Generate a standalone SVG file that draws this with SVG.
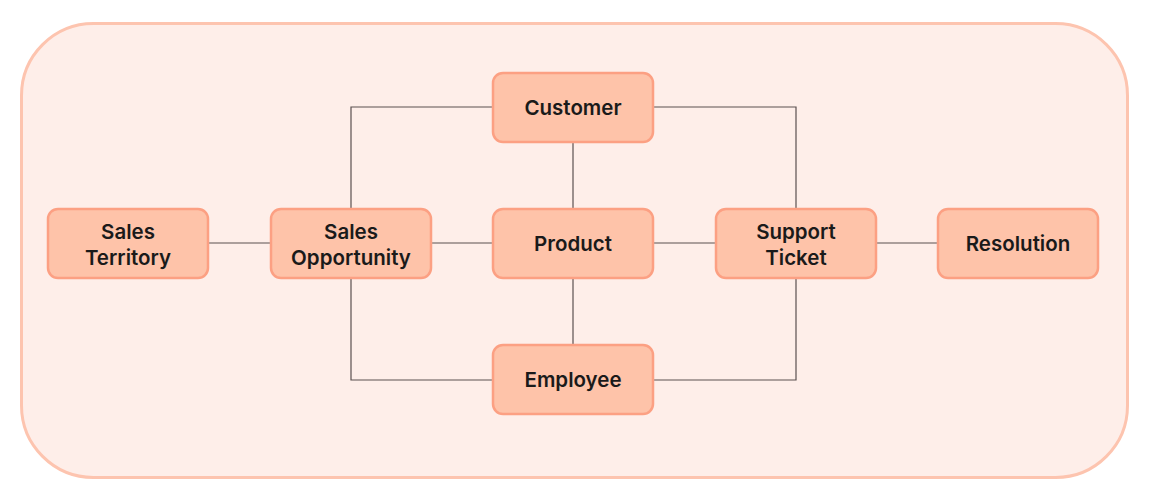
<svg xmlns="http://www.w3.org/2000/svg" width="1159" height="503" viewBox="0 0 1159 503">
<style>
.node rect{fill:#FEC3A9;stroke:#FCA083;stroke-width:2.5}
.node text{font-family:Inter,"Open Sans","Liberation Sans",sans-serif;font-weight:600;font-size:20.5px;fill:#1a1a1a;text-anchor:middle}
.conn{fill:none;stroke:#5a5050;stroke-width:1.2}
</style>
<rect x="21.5" y="23.5" width="1106" height="454" rx="72" fill="#FEEEE9" stroke="#FDC4AF" stroke-width="3"/>
<g id="connectors" class="conn">
<line x1="208" y1="243" x2="270" y2="243"/>
<line x1="432" y1="243" x2="493" y2="243"/>
<line x1="654" y1="243" x2="715" y2="243"/>
<line x1="877" y1="243" x2="938" y2="243"/>
<line x1="573" y1="142" x2="573" y2="209"/>
<line x1="573" y1="278" x2="573" y2="344"/>
<polyline points="493,107 351,107 351,209"/>
<polyline points="654,107 796,107 796,209"/>
<polyline points="493,380 351,380 351,278"/>
<polyline points="654,380 796,380 796,278"/>
</g>
<g id="sales-territory" class="node"><rect x="48" y="209" width="160" height="69" rx="10"/><text x="128" y="239">Sales</text><text x="128" y="264.5">Territory</text></g>
<g id="sales-opportunity" class="node"><rect x="271" y="209" width="160" height="69" rx="10"/><text x="351" y="239">Sales</text><text x="351" y="264.5">Opportunity</text></g>
<g id="customer" class="node"><rect x="493" y="73" width="160" height="69" rx="10"/><text x="573" y="115">Customer</text></g>
<g id="product" class="node"><rect x="493" y="209" width="160" height="69" rx="10"/><text x="573" y="251">Product</text></g>
<g id="support-ticket" class="node"><rect x="716" y="209" width="160" height="69" rx="10"/><text x="796" y="239">Support</text><text x="796" y="264.5">Ticket</text></g>
<g id="resolution" class="node"><rect x="938" y="209" width="160" height="69" rx="10"/><text x="1018" y="251">Resolution</text></g>
<g id="employee" class="node"><rect x="493" y="345" width="160" height="69" rx="10"/><text x="573" y="387">Employee</text></g>
</svg>
